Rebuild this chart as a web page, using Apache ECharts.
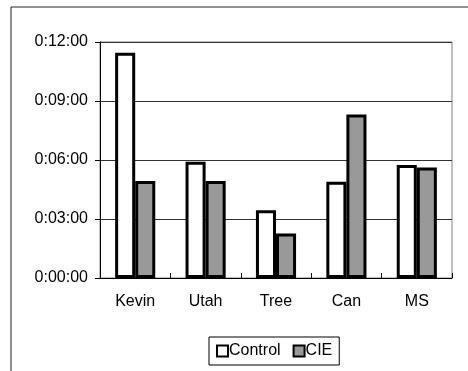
<!DOCTYPE html>
<html><head><meta charset="utf-8">
<script src="https://cdn.jsdelivr.net/npm/echarts@6/dist/echarts.min.js"></script>
<style>html,body{margin:0;padding:0;background:#fff}#c{width:468px;height:371px}</style>
</head><body><div id="c"></div>
<script>
// values in seconds
const categories = ['Kevin', 'Utah', 'Tree', 'Can', 'MS'];
const controlValues = [687, 355, 207, 294, 345];
const cieValues = [296, 296, 136, 499, 337];
const yTicks = [0, 180, 360, 540, 720];

function fmt(s) {
  const h = Math.floor(s / 3600), m = Math.floor((s % 3600) / 60), sec = Math.round(s % 60);
  return h + ':' + String(m).padStart(2, '0') + ':' + String(sec).padStart(2, '0');
}
const font = 'Liberation Sans, Arial, sans-serif';
const chart = echarts.init(document.getElementById('c'), null, {renderer: 'canvas'});
chart.setOption({
  animation: false,
  backgroundColor: '#fff',
  graphic: [{type: 'rect', shape: {x: 11, y: 7, width: 600, height: 500}, style: {fill: 'none', stroke: '#222', lineWidth: 1}, silent: true}],
  grid: {left: 100, top: 42, width: 352, height: 236, show: true, borderColor: '#808080', borderWidth: 1, backgroundColor: 'transparent'},
  legend: {
    left: 209, top: 337, orient: 'horizontal',
    data: [
      {name: 'Control', itemStyle: {color: '#fff', borderColor: '#000', borderWidth: 2}},
      {name: 'CIE', itemStyle: {color: '#999999', borderColor: '#000', borderWidth: 2}}
    ],
    icon: 'rect', itemWidth: 11, itemHeight: 11, itemGap: 12,
    borderColor: '#000', borderWidth: 1, padding: [6, 7], borderRadius: 0,
    textStyle: {fontFamily: font, fontSize: 16, color: '#000', padding: [0, 0, 0, -4]}
  },
  xAxis: {
    type: 'category', data: categories,
    axisLine: {lineStyle: {color: '#000', width: 1}},
    axisTick: {show: true, inside: true, length: 5, alignWithLabel: false, lineStyle: {color: '#000'}},
    axisLabel: {fontFamily: font, fontSize: 16, color: '#000', margin: 16}
  },
  yAxis: {
    type: 'value', min: yTicks[0], max: yTicks[yTicks.length - 1], interval: 180,
    axisLine: {show: true, lineStyle: {color: '#000', width: 1}},
    axisTick: {show: true, inside: false, length: 5, lineStyle: {color: '#000'}},
    axisLabel: {fontFamily: font, fontSize: 16, color: '#000', margin: 12, formatter: v => fmt(v)},
    splitLine: {show: true, lineStyle: {color: '#333', width: 1}}
  },
  series: [
    {name: 'Control', type: 'bar', data: controlValues, barGap: '0%', barCategoryGap: '43%',
     itemStyle: {color: '#fff', borderColor: '#000', borderWidth: 3}},
    {name: 'CIE', type: 'bar', data: cieValues,
     itemStyle: {color: '#999999', borderColor: '#000', borderWidth: 3}}
  ]
});
</script></body></html>
